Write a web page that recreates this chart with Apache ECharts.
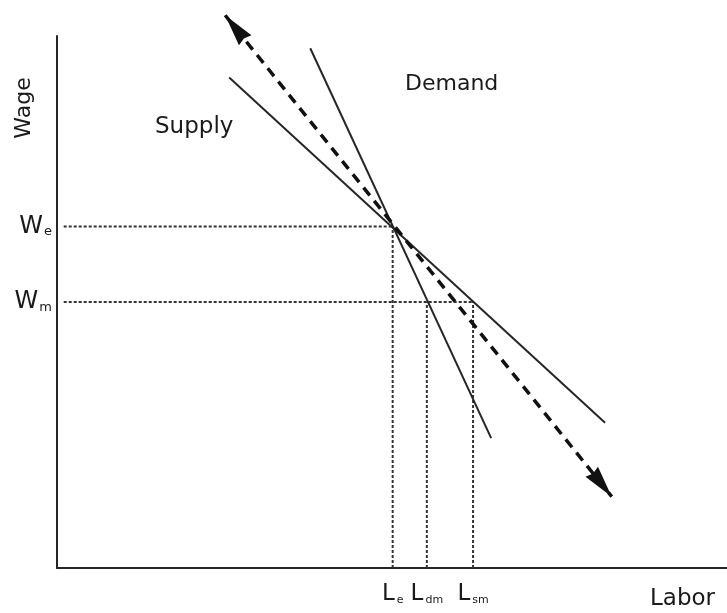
<!DOCTYPE html>
<html>
<head>
<meta charset="utf-8">
<script src="https://cdn.jsdelivr.net/npm/echarts@6/dist/echarts.min.js"></script>
<style>
  html, body { margin: 0; padding: 0; background: #fff; }
  #chart { width: 727px; height: 613px; }
</style>
</head>
<body>
<div id="chart"></div>
<script>
// ---- data (Labor on x, Wage on y, arbitrary units 0-100) ----
const supplyLine = [[25.7, 92.2], [81.8, 27.3]];
const demandLine = [[37.8, 97.7], [64.8, 24.4]];
const shiftArrow = [[25.1, 103.9], [82.8, 13.4]];
const wageLevels = { e: 64.2, m: 50 };               // W_e, W_m
const laborLevels = { e: 50.1, dm: 55.2, sm: 62.1 }; // L_e, L_dm, L_sm
const xTickValues = [laborLevels.e, laborLevels.dm, laborLevels.sm];
const xTickSubs = ['e', 'dm', 'sm'];
const yTickValues = [wageLevels.m, wageLevels.e];
const yTickSubs = ['m', 'e'];

const FONT = 'DejaVu Sans';
const INK = '#1a1a1a';
const LINE = '#262626';

const guideStyle = { color: '#333', width: 2, type: [3, 2] };
const guides = [
  [[1, wageLevels.e], [laborLevels.e, wageLevels.e]],
  [[1, wageLevels.m], [laborLevels.sm, wageLevels.m]],
  [[laborLevels.e, 0], [laborLevels.e, wageLevels.e]],
  [[laborLevels.dm, 0], [laborLevels.dm, wageLevels.m]],
  [[laborLevels.sm, 0], [laborLevels.sm, wageLevels.m]]
];

const xRich = {
  b: { fontFamily: FONT, fontSize: 23, color: INK, lineHeight: 23, verticalAlign: 'top' },
  s: { fontFamily: FONT, fontSize: 11, color: INK, lineHeight: 11, padding: [15, 0, 0, 2], verticalAlign: 'bottom' }
};
const yRich = {
  b: { fontFamily: FONT, fontSize: 24, color: INK, lineHeight: 24, verticalAlign: 'top' },
  s: { fontFamily: FONT, fontSize: 13, color: INK, lineHeight: 13, padding: [15, 0, 0, 1], verticalAlign: 'bottom' }
};

function tickFormatter(values, subs, main) {
  return function (v) {
    let best = 0;
    for (let i = 1; i < values.length; i++) {
      if (Math.abs(values[i] - v) < Math.abs(values[best] - v)) best = i;
    }
    return '{b|' + main + '}{s|' + subs[best] + '}';
  };
}

const chart = echarts.init(document.getElementById('chart'), null, { renderer: 'canvas' });

// arrowhead whose tip sits at the centre of its box (so the tip lands on the line end)
const HEAD = 'path://M8,0 L8,0.01 M8,30 L16,60 L8,58 L0,60 Z';
const series = [];
guides.forEach(function (g) {
  series.push({
    type: 'line', data: g, symbol: 'none', silent: true, clip: false,
    lineStyle: guideStyle, z: 1
  });
});
series.push({
  name: 'Supply', type: 'line', data: supplyLine, symbol: 'none', clip: false,
  lineStyle: { color: LINE, width: 2 }, z: 3
});
series.push({
  name: 'Demand', type: 'line', data: demandLine, symbol: 'none', clip: false,
  lineStyle: { color: LINE, width: 2 }, z: 3
});
series.push({
  type: 'lines', coordinateSystem: 'cartesian2d', clip: false, z: 4,
  symbol: [HEAD, HEAD],
  symbolSize: [[16, 64], [16, 64]],
  lineStyle: { color: '#111', width: 3.5, type: [10, 7], opacity: 1 },
  itemStyle: { color: '#111' },
  data: [{ coords: shiftArrow }]
});

chart.setOption({
  animation: false,
  backgroundColor: '#fff',
  grid: { left: 57, right: 0, top: 36, bottom: 45, containLabel: false, outerBoundsMode: 'none' },
  xAxis: {
    type: 'value', min: 0, max: 100,
    axisLine: { show: true, lineStyle: { color: LINE, width: 2 } },
    axisTick: { show: false },
    splitLine: { show: false },
    axisLabel: {
      customValues: xTickValues, margin: 15,
      formatter: tickFormatter(xTickValues, xTickSubs, 'L'), rich: xRich
    }
  },
  yAxis: {
    type: 'value', min: 0, max: 100,
    axisLine: { show: true, lineStyle: { color: LINE, width: 2 } },
    axisTick: { show: false },
    splitLine: { show: false },
    axisLabel: {
      customValues: yTickValues, margin: 5,
      formatter: tickFormatter(yTickValues, yTickSubs, 'W'), rich: yRich
    }
  },
  graphic: [
    { type: 'text', x: 24, y: 108, rotation: Math.PI / 2,
      style: { text: 'Wage', font: '22px "DejaVu Sans"', fill: INK, align: 'center', verticalAlign: 'middle' } },
    { type: 'text', x: 155, y: 127,
      style: { text: 'Supply', font: '23px "DejaVu Sans"', fill: INK, align: 'left', verticalAlign: 'middle' } },
    { type: 'text', x: 405, y: 84,
      style: { text: 'Demand', font: '22px "DejaVu Sans"', fill: INK, align: 'left', verticalAlign: 'middle' } },
    { type: 'text', x: 650, y: 599,
      style: { text: 'Labor', font: '23px "DejaVu Sans"', fill: INK, align: 'left', verticalAlign: 'middle' } }
  ],
  series: series
});
</script>
</body>
</html>
